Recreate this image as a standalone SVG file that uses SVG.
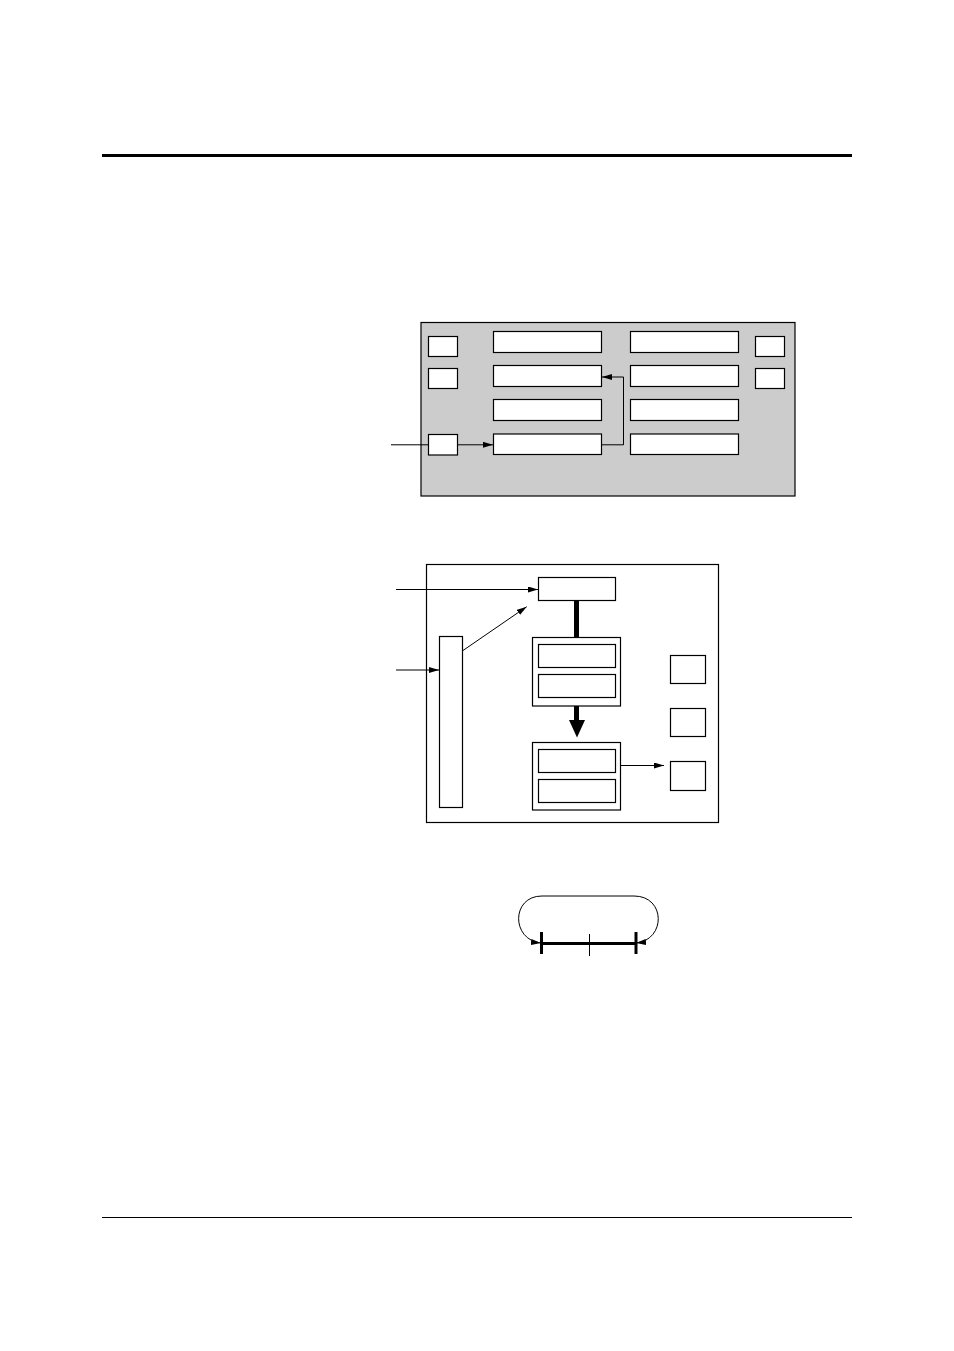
<svg xmlns="http://www.w3.org/2000/svg" width="954" height="1351" viewBox="0 0 954 1351">
<style>
.b{fill:#fff;stroke:#000;stroke-width:1.2}
.c{fill:none;stroke:#000;stroke-width:1}
</style>
<defs>
<marker id="ah" viewBox="0 0 10 6" refX="10" refY="3" markerWidth="10" markerHeight="6" markerUnits="userSpaceOnUse" orient="auto-start-reverse">
<path d="M0,0 L10,3 L0,6 Z" fill="#000"/>
</marker>
</defs>
<rect width="954" height="1351" fill="#fff"/>
<line x1="102" y1="155.5" x2="852" y2="155.5" stroke="#000" stroke-width="3"/>
<line x1="102" y1="1217.5" x2="852" y2="1217.5" stroke="#000" stroke-width="1"/>

<g id="diagram1">
<rect id="panel1" x="421" y="322.5" width="374" height="173.5" fill="#ccc" stroke="#000" stroke-width="1.2"/>
<g id="s1"><rect class="b" x="428.5" y="336.5" width="29" height="20"/></g>
<g id="s2"><rect class="b" x="428.5" y="368.5" width="29" height="20"/></g>
<g id="s3"><rect class="b" x="428.5" y="434.5" width="29" height="20.5"/></g>
<g id="s4"><rect class="b" x="755.5" y="336.5" width="29" height="20"/></g>
<g id="s5"><rect class="b" x="755.5" y="368.5" width="29" height="20"/></g>
<g id="a1"><rect class="b" x="493.5" y="331.5" width="108" height="21"/></g>
<g id="a2"><rect class="b" x="493.5" y="365.5" width="108" height="21"/></g>
<g id="a3"><rect class="b" x="493.5" y="399.5" width="108" height="21"/></g>
<g id="a4"><rect class="b" x="493.5" y="434" width="108" height="20.5"/></g>
<g id="b1"><rect class="b" x="630.5" y="331.5" width="108" height="21"/></g>
<g id="b2"><rect class="b" x="630.5" y="365.5" width="108" height="21"/></g>
<g id="b3"><rect class="b" x="630.5" y="399.5" width="108" height="21"/></g>
<g id="b4"><rect class="b" x="630.5" y="434" width="108" height="20.5"/></g>
</g>

<g id="diagram2">
<rect id="panel2" x="426.5" y="564.5" width="292" height="258" fill="#fff" stroke="#000" stroke-width="1.2"/>
<g id="top"><rect class="b" x="538.5" y="577.5" width="77" height="23"/></g>
<g id="tall"><rect class="b" x="439.5" y="636.5" width="23" height="171"/></g>
<g id="grp1">
<rect class="b" x="532.5" y="637.5" width="88" height="68.5"/>
<rect class="b" x="538.5" y="644.5" width="77" height="23"/>
<rect class="b" x="538.5" y="674.5" width="77" height="23"/>
</g>
<g id="grp2">
<rect class="b" x="532.5" y="742.5" width="88" height="67.5"/>
<rect class="b" x="538.5" y="749.5" width="77" height="23"/>
<rect class="b" x="538.5" y="779.5" width="77" height="23"/>
</g>
<g id="r1"><rect class="b" x="670.5" y="655.5" width="35" height="28"/></g>
<g id="r2"><rect class="b" x="670.5" y="708.5" width="35" height="28"/></g>
<g id="r3"><rect class="b" x="670.5" y="761.5" width="35" height="29"/></g>
</g>

<g id="loop">
<line x1="541.5" y1="943.5" x2="636" y2="943.5" stroke="#000" stroke-width="3"/>
<line x1="541.5" y1="932" x2="541.5" y2="954" stroke="#000" stroke-width="3"/>
<line x1="636" y1="932" x2="636" y2="954" stroke="#000" stroke-width="3"/>
<line x1="589.5" y1="934" x2="589.5" y2="956" stroke="#000" stroke-width="1"/>
</g>

<g id="connectors">
<polyline class="c" points="391,444.8 428.5,444.8"/>
<polyline class="c" points="457.5,444.8 493,444.8" marker-end="url(#ah)"/>
<polyline class="c" points="601.5,444.8 623.5,444.8 623.5,377 602,377" marker-end="url(#ah)"/>
<polyline class="c" points="396,589.5 538,589.5" marker-end="url(#ah)"/>
<polyline class="c" points="396,670 439,670" marker-end="url(#ah)"/>
<polyline class="c" points="462.7,650.7 526.7,606.7" marker-end="url(#ah)"/>
<polyline class="c" points="620.5,765.5 664,765.5" marker-end="url(#ah)"/>
<rect x="574" y="600.5" width="5" height="37" fill="#000"/>
<rect x="574" y="706" width="5" height="15" fill="#000"/>
<path d="M569,720 L585,720 L577,737.5 Z" fill="#000"/>
<path class="c" d="M541,943 C511,940 511,896 542,896 L634,896 C666,896 666,940 636,943" marker-start="url(#ah)" marker-end="url(#ah)"/>
</g>
</svg>
